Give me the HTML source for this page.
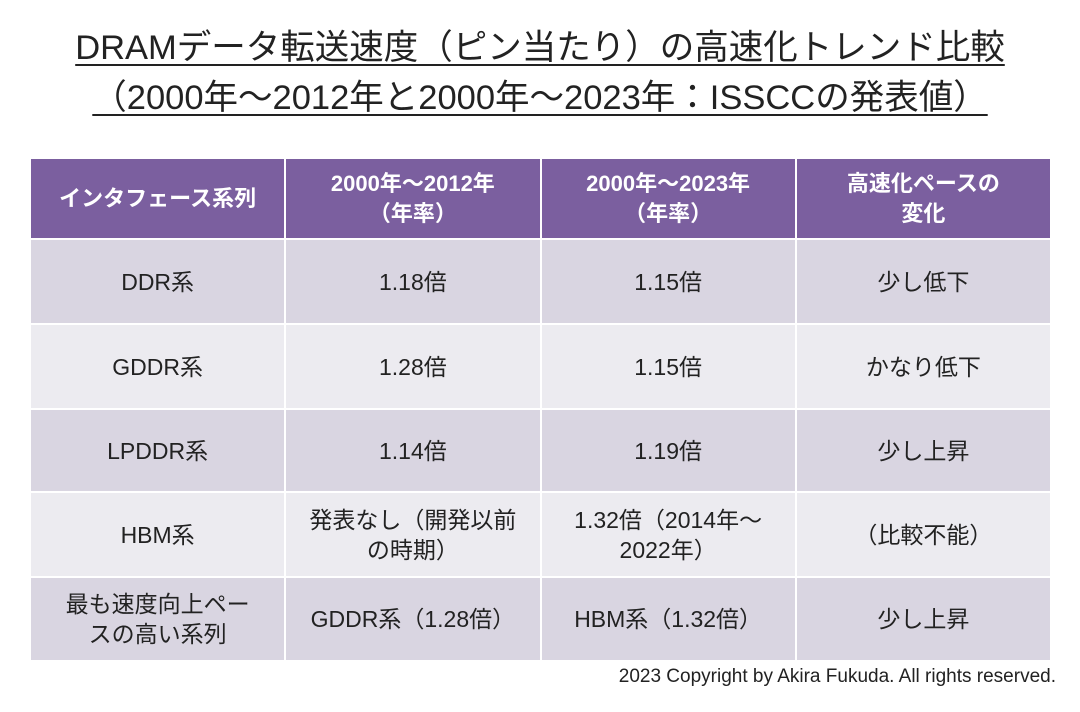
<!DOCTYPE html>
<html><head><meta charset="utf-8"><style>
body{margin:0;width:1080px;height:712px;background:#fff;font-family:"Liberation Sans","Noto Sans CJK JP",sans-serif;position:relative;overflow:hidden}
.title{position:absolute;left:0;width:1080px;text-align:center;font-size:34.5px;color:#222;text-decoration:underline;text-underline-offset:5px;text-decoration-thickness:2px;line-height:44px}
table{position:absolute;left:29px;top:157px;width:1023px;border-collapse:collapse;table-layout:fixed}
td,th{border:2px solid #fff;text-align:center;vertical-align:middle;font-size:23px;color:#222;font-weight:normal;line-height:30px;padding:0}
th{background:#7b5f9f;color:#fff;height:79px;font-weight:bold;font-size:22px}
tr.a td{background:#d9d5e1}
tr.b td{background:#ecebf0}
.copy{position:absolute;right:24px;top:666px;font-size:19px;color:#222}
</style></head><body>
<div class="title" style="top:26px">DRAMデータ転送速度（ピン当たり）の高速化トレンド比較</div>
<div class="title" style="top:76px">（2000年～2012年と2000年～2023年：ISSCCの発表値）</div>
<table>
<tr><th>インタフェース系列</th><th>2000年～2012年<br>（年率）</th><th>2000年～2023年<br>（年率）</th><th>高速化ペースの<br>変化</th></tr>
<tr class="a" style="height:85px"><td>DDR系</td><td>1.18倍</td><td>1.15倍</td><td>少し低下</td></tr>
<tr class="b" style="height:85px"><td>GDDR系</td><td>1.28倍</td><td>1.15倍</td><td>かなり低下</td></tr>
<tr class="a" style="height:83px"><td>LPDDR系</td><td>1.14倍</td><td>1.19倍</td><td>少し上昇</td></tr>
<tr class="b" style="height:85px"><td>HBM系</td><td>発表なし（開発以前<br>の時期）</td><td>1.32倍（2014年～<br>2022年）</td><td>（比較不能）</td></tr>
<tr class="a" style="height:84px"><td>最も速度向上ペー<br>スの高い系列</td><td>GDDR系（1.28倍）</td><td>HBM系（1.32倍）</td><td>少し上昇</td></tr>
</table>
<div class="copy">2023 Copyright by Akira Fukuda. All rights reserved.</div>
</body></html>
